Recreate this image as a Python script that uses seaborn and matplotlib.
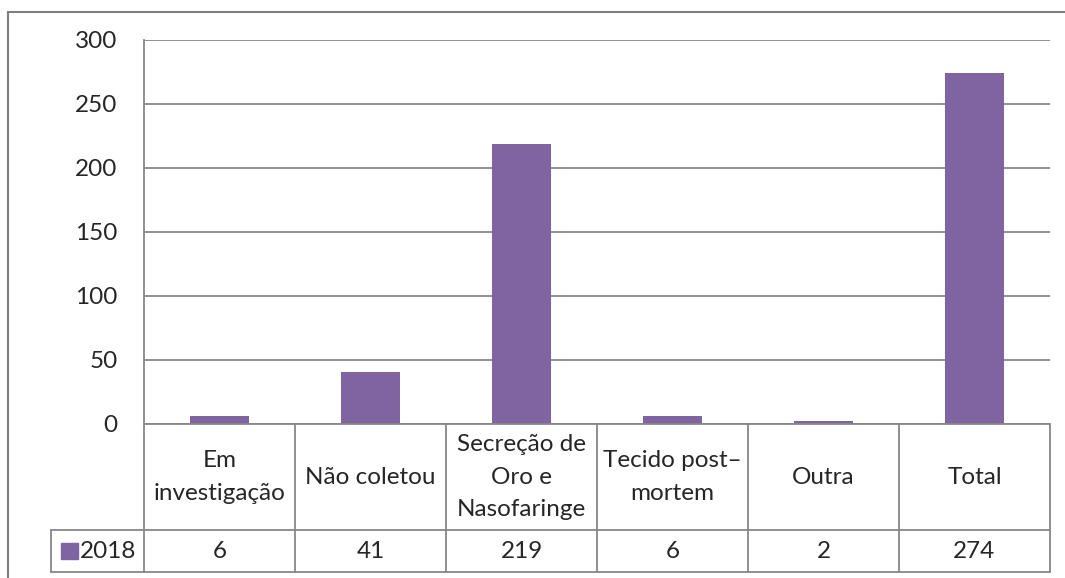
import matplotlib
matplotlib.use("Agg")
import matplotlib.pyplot as plt
import matplotlib.transforms as mtransforms
from matplotlib.patches import Rectangle
import seaborn as sns
import pandas as pd

categories = ["Em\ninvestigação", "Não coletou", "Secreção de\nOro e\nNasofaringe",
              "Tecido post–\nmortem", "Outra", "Total"]
values_2018 = [6, 41, 219, 6, 2, 274]
series_name = "2018"
y_ticks = [0, 50, 100, 150, 200, 250, 300]

BAR = "#8064A2"
GRID = "#878787"
W, H = 1065, 578

sns.set_style("white")
plt.rcParams['font.family'] = ['Lato', 'DejaVu Sans']
FS = 17.5

fig = plt.figure(figsize=(W / 100, H / 100), dpi=100)

def fx(x):
    return x / W

def fy(y):
    return 1 - y / H

ax = fig.add_axes([fx(144), fy(424), fx(1050) - fx(144), fy(40) - fy(424)])

df = pd.DataFrame({"cat": categories, "val": values_2018})
sns.barplot(data=df, x="cat", y="val", color=BAR, width=0.39, saturation=1,
            ax=ax, edgecolor="none")

ax.set_xlim(-0.5, len(categories) - 0.5)
ax.set_ylim(0, 300)
ax.set_yticks(y_ticks)
ax.set_yticklabels([str(t) for t in y_ticks], fontsize=FS)
ax.tick_params(axis="y", length=0, pad=19)
ax.set_xticks([])
ax.set_xlabel("")
ax.set_ylabel("")
ax.yaxis.grid(True, color=GRID, linewidth=1.3)
ax.set_axisbelow(True)
for s in ["top", "right", "bottom"]:
    ax.spines[s].set_visible(False)
ax.spines["left"].set_color(GRID)
ax.spines["left"].set_linewidth(1.3)

# data table below the plot
trans = mtransforms.blended_transform_factory(ax.transData, ax.transAxes)
row1 = -(530 - 424) / 384
row2 = -(572 - 424) / 384
n = len(categories)
leg_left = -0.5 - (144 - 51) / ((1050 - 144) / n)
lw = 1.3
ax.plot([-0.5, n - 0.5], [0, 0], color=GRID, lw=lw, transform=trans, clip_on=False)
ax.plot([leg_left, n - 0.5], [row1, row1], color=GRID, lw=lw, transform=trans, clip_on=False)
ax.plot([leg_left, n - 0.5], [row2, row2], color=GRID, lw=lw, transform=trans, clip_on=False)
ax.plot([leg_left, leg_left], [row1, row2], color=GRID, lw=lw, transform=trans, clip_on=False)
for i in range(n + 1):
    xb = i - 0.5
    ax.plot([xb, xb], [0, row2], color=GRID, lw=lw, transform=trans, clip_on=False)

for i, (c, v) in enumerate(zip(categories, values_2018)):
    ax.text(i, row1 / 2, c, ha="center", va="center", fontsize=FS,
            transform=trans, clip_on=False, linespacing=1.68)
    ax.text(i, (row1 + row2) / 2, str(v), ha="center", va="center", fontsize=FS,
            transform=trans, clip_on=False)

# legend key in table
fig.patches.append(Rectangle((fx(61), fy(559)), fx(17), fy(543) - fy(559),
                             transform=fig.transFigure, color=BAR, zorder=5))
fig.text(fx(80), fy(551), series_name, ha="left", va="center", fontsize=FS)

# outer chart border
fig.patches.append(Rectangle((fx(8), -0.2), 1.2, fy(12) + 0.2, transform=fig.transFigure,
                             fill=False, edgecolor="#7f7f7f", linewidth=1.5, zorder=0))

fig.savefig("out.png", dpi=100)
